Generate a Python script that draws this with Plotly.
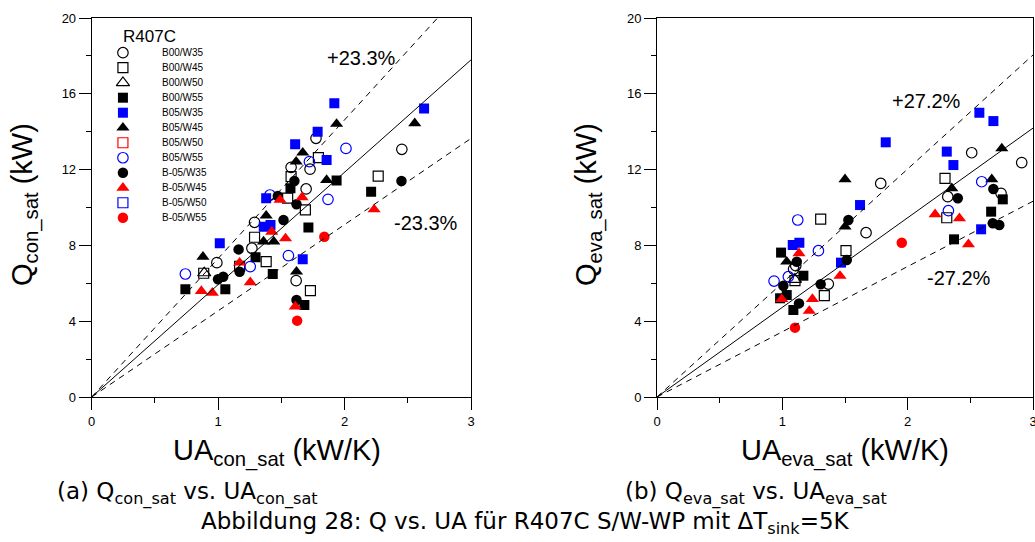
import plotly.graph_objects as go

W, H = 1035, 542

# ---------------- data (UA in kW/K, Q in kW) ----------------
SERIES = ["B00/W35", "B00/W45", "B00/W50", "B00/W55", "B05/W35", "B05/W45",
          "B05/W50", "B05/W55", "B-05/W35", "B-05/W45", "B-05/W50", "B-05/W55"]

# (a) condenser
con_B00_W35 = [(0.99, 7.09), (1.267, 7.85), (1.617, 6.14), (1.288, 9.22), (1.577, 12.12),
               (1.727, 12.02), (1.696, 10.98), (1.774, 13.65), (2.453, 13.07)]
con_B00_W45 = [(1.288, 8.43), (1.17, 6.9), (1.38, 7.14), (1.73, 5.61), (0.886, 6.53),
               (1.793, 12.63), (1.577, 11.63), (1.55, 10.49), (1.69, 9.87), (2.266, 11.66)]
con_B00_W50 = [(0.89, 6.55)]
con_B00_W55 = [(1.296, 7.37), (1.682, 4.85), (1.432, 6.49), (0.741, 5.68), (1.057, 5.68),
               (1.572, 11.01), (1.714, 8.95), (1.937, 11.42), (2.21, 10.83)]
con_B05_W35 = [(1.013, 8.11), (1.669, 7.27), (1.609, 13.34), (1.787, 14.0), (1.38, 10.49),
               (1.361, 8.99), (1.414, 9.08), (1.919, 15.5), (1.858, 12.51), (2.629, 15.23)]
con_B05_W45 = [(0.88, 7.40), (1.359, 8.2), (1.44, 8.2), (1.62, 6.61), (1.669, 12.89),
               (1.617, 12.42), (1.38, 9.57), (1.937, 14.41), (1.858, 11.45), (2.555, 14.44)]
con_B05_W50 = []
con_B05_W55 = [(1.254, 6.88), (1.556, 7.46), (0.741, 6.49), (1.41, 10.66), (1.722, 12.42),
               (2.011, 13.12), (1.869, 10.43)]
con_Bm05_W35 = [(1.162, 7.79), (0.999, 6.21), (1.04, 6.35), (1.17, 6.61), (1.62, 5.12),
                (1.603, 11.40), (1.472, 10.61), (1.62, 10.17), (1.517, 9.34), (2.45, 11.40)]
con_Bm05_W45 = [(1.533, 8.37), (1.17, 7.09), (1.61, 4.77), (1.254, 6.05), (0.867, 5.59),
                (0.954, 5.50), (1.49, 10.40), (1.664, 10.54), (1.424, 8.72), (2.234, 9.90)]
con_Bm05_W50 = []
con_Bm05_W55 = [(1.84, 8.46), (1.625, 4.03)]

# (b) evaporator
eva_B00_W35 = [(1.107, 6.93), (1.09, 6.75), (1.367, 5.96), (2.511, 12.89), (2.91, 12.37),
               (1.785, 11.27), (2.745, 10.75), (2.32, 10.57), (1.668, 8.67)]
eva_B00_W45 = [(1.306, 9.39), (1.508, 7.72), (1.101, 6.14), (1.335, 5.35), (2.298, 11.54),
               (2.312, 9.46)]
eva_B00_W50 = [(1.10, 6.2)]
eva_B00_W55 = [(0.99, 7.62), (1.168, 6.40), (0.982, 5.21), (1.035, 5.38), (1.088, 4.59),
               (2.759, 10.43), (2.666, 9.78), (2.37, 8.32)]
eva_B05_W35 = [(1.083, 8.02), (1.136, 8.14), (1.468, 7.09), (1.62, 10.13), (2.572, 15.0),
               (2.684, 14.56), (1.825, 13.44), (2.312, 12.95), (2.365, 12.24), (2.586, 8.85)]
eva_B05_W45 = [(1.50, 11.49), (1.50, 8.99), (1.035, 7.14), (2.751, 13.12), (2.671, 11.49),
               (2.352, 11.01)]
eva_B05_W50 = []
eva_B05_W55 = [(1.123, 9.34), (1.288, 7.72), (0.934, 6.12), (1.048, 6.35), (2.591, 11.36),
               (2.325, 9.83)]
eva_Bm05_W35 = [(1.527, 9.34), (1.514, 7.23), (1.115, 7.14), (1.008, 5.87), (1.306, 5.95),
                (1.133, 4.94), (2.684, 10.98), (2.40, 10.49), (2.679, 9.17), (2.731, 9.08)]
eva_Bm05_W45 = [(1.133, 7.58), (1.46, 6.39), (0.995, 5.16), (1.24, 5.17), (1.215, 4.54),
                (2.219, 9.64), (2.413, 9.43), (2.485, 8.06)]
eva_Bm05_W50 = []
eva_Bm05_W55 = [(1.101, 3.66), (1.953, 8.14)]

CON = [con_B00_W35, con_B00_W45, con_B00_W50, con_B00_W55, con_B05_W35, con_B05_W45,
       con_B05_W50, con_B05_W55, con_Bm05_W35, con_Bm05_W45, con_Bm05_W50, con_Bm05_W55]
EVA = [eva_B00_W35, eva_B00_W45, eva_B00_W50, eva_B00_W55, eva_B05_W35, eva_B05_W45,
       eva_B05_W50, eva_B05_W55, eva_Bm05_W35, eva_Bm05_W45, eva_Bm05_W50, eva_Bm05_W55]

# reference lines: Q = k * UA, with +/- deviation band
K_CON, DEV_CON = 5.93, 0.233
K_EVA, DEV_EVA = 4.73, 0.272
UA_LINE = [0, 3]

# ---------------- styles ----------------
BLUE, RED, BLACK = "#0000FF", "#FF0000", "#000000"
STYLE = {
    "B00/W35": ("circle-open", BLACK), "B00/W45": ("square-open", BLACK),
    "B00/W50": ("triangle-up-open", BLACK), "B00/W55": ("square", BLACK),
    "B05/W35": ("square", BLUE), "B05/W45": ("triangle-up", BLACK),
    "B05/W50": ("square-open", RED), "B05/W55": ("circle-open", BLUE),
    "B-05/W35": ("circle", BLACK), "B-05/W45": ("triangle-up", RED),
    "B-05/W50": ("square-open", BLUE), "B-05/W55": ("circle", RED),
}
SIZE = {"circle": 10.5, "square": 10, "triangle-up": 11.5}

def marker(name):
    sym, col = STYLE[name]
    base = sym.replace("-open", "")
    if sym.endswith("-open"):
        return dict(symbol=sym, size=SIZE[base], color=col, line=dict(color=col, width=1.2))
    return dict(symbol=sym, size=SIZE[base], color=col, line=dict(width=0))

fig = go.Figure()

def add_panel(data, xa, ya, k, dev):
    for name, pts in zip(SERIES, data):
        if not pts:
            continue
        fig.add_trace(go.Scatter(
            x=[p[0] for p in pts], y=[p[1] for p in pts], mode="markers",
            marker=marker(name), xaxis=xa, yaxis=ya, showlegend=False, hoverinfo="skip"))
    for f, dash in [(1.0, "solid"), (1 + dev, "6px,5px"), (1 - dev, "6px,5px")]:
        fig.add_trace(go.Scatter(
            x=UA_LINE, y=[k * f * u for u in UA_LINE], mode="lines",
            line=dict(color="black", width=1, dash=dash),
            xaxis=xa, yaxis=ya, showlegend=False, hoverinfo="skip"))

add_panel(CON, "x", "y", K_CON, DEV_CON)
add_panel(EVA, "x2", "y2", K_EVA, DEV_EVA)

# ---------------- custom legend inside panel (a) ----------------
LEG_MARK_X, LEG_TEXT_X = 0.247, 0.54
LEG_Y0, LEG_DY = 18.17, 0.792
for i, name in enumerate(SERIES):
    yy = LEG_Y0 - i * LEG_DY
    fig.add_trace(go.Scatter(x=[LEG_MARK_X], y=[yy], mode="markers", marker=marker(name),
                             xaxis="x", yaxis="y", showlegend=False, hoverinfo="skip",
                             cliponaxis=False))
    fig.add_annotation(x=LEG_TEXT_X, y=yy, xref="x", yref="y", text=name, showarrow=False,
                       xanchor="left", yanchor="middle",
                       font=dict(family="Liberation Sans, Arial", size=10, color="black"))
fig.add_annotation(x=0.46, y=19.0, xref="x", yref="y", text="R407C", showarrow=False,
                   xanchor="center", yanchor="middle",
                   font=dict(family="Liberation Sans, Arial", size=17, color="black"))

# percentage labels
PCT_FONT = dict(family="Liberation Sans, Arial", size=20, color="black")
for txt, x, y, xr, yr in [("+23.3%", 2.132, 17.89, "x", "y"), ("-23.3%", 2.642, 9.17, "x", "y"),
                          ("+27.2%", 2.147, 15.62, "x2", "y2"), ("-27.2%", 2.41, 6.26, "x2", "y2")]:
    fig.add_annotation(x=x, y=y, xref=xr, yref=yr, text=txt, showarrow=False, font=PCT_FONT)

# axis titles and captions (paper coords from pixel positions)
def px(x):
    return x / W

def py(y):
    return 1 - y / H

TITLE_FONT = dict(family="Liberation Sans, Arial", size=29, color="black")
CAP_FONT = dict(family="DejaVu Sans, Verdana", size=23, color="black")
annots = [
    (px(24), py(205), "Q<sub>con_sat</sub> (kW)", -90, "center", TITLE_FONT),
    (px(588), py(205), "Q<sub>eva_sat</sub> (kW)", -90, "center", TITLE_FONT),
    (px(277), py(452), "UA<sub>con_sat</sub> (kW/K)", 0, "center", TITLE_FONT),
    (px(845), py(452), "UA<sub>eva_sat</sub> (kW/K)", 0, "center", TITLE_FONT),
    (px(55), py(493), "(a) Q<sub>con_sat</sub> vs. UA<sub>con_sat</sub>", 0, "left", CAP_FONT),
    (px(623), py(493), "(b) Q<sub>eva_sat</sub> vs. UA<sub>eva_sat</sub>", 0, "left", CAP_FONT),
    (px(525), py(523), "Abbildung 28: Q vs. UA für R407C S/W-WP mit ΔT<sub>sink</sub>=5K", 0,
     "center", CAP_FONT),
]
for x, y, t, ang, xa, f in annots:
    fig.add_annotation(x=x, y=y, xref="paper", yref="paper", text=t, textangle=ang,
                       showarrow=False, xanchor=xa, yanchor="middle", font=f)

TICK_FONT = dict(family="Liberation Sans, Arial", size=13, color="black")
xcommon = dict(range=[0, 3], tickvals=[0, 1, 2, 3], ticks="outside", ticklen=12, tickwidth=1,
               tickcolor="black", minor=dict(dtick=0.5, ticks="outside", ticklen=5,
                                             tickcolor="black", tickwidth=1),
               showline=True, linecolor="black", linewidth=1, mirror=True, showgrid=False,
               zeroline=False, tickfont=TICK_FONT, fixedrange=True, automargin=False,
               ticklabeloverflow="allow")
ycommon = dict(range=[0, 20], tickvals=[0, 4, 8, 12, 16, 20], ticks="outside", ticklen=12,
               tickwidth=1, tickcolor="black",
               minor=dict(dtick=2, ticks="outside", ticklen=5, tickcolor="black", tickwidth=1),
               showline=True, linecolor="black", linewidth=1, mirror=True, showgrid=False,
               zeroline=False, tickfont=TICK_FONT, fixedrange=True, automargin=False,
               ticklabeloverflow="allow")

YDOM = [py(397), py(18)]
fig.update_layout(
    width=W, height=H, margin=dict(l=0, r=0, t=0, b=0, autoexpand=False),
    paper_bgcolor="white", plot_bgcolor="white", showlegend=False,
    xaxis=dict(domain=[px(91.7), px(471)], anchor="y", **xcommon),
    yaxis=dict(domain=YDOM, anchor="x", **ycommon),
    xaxis2=dict(domain=[px(657), px(1033)], anchor="y2", **xcommon),
    yaxis2=dict(domain=YDOM, anchor="x2", **ycommon),
)

fig.write_html("out.html", config={"displayModeBar": False, "staticPlot": True},
               post_script="document.body.style.margin='0px';"
                           "document.documentElement.style.overflow='hidden';")
